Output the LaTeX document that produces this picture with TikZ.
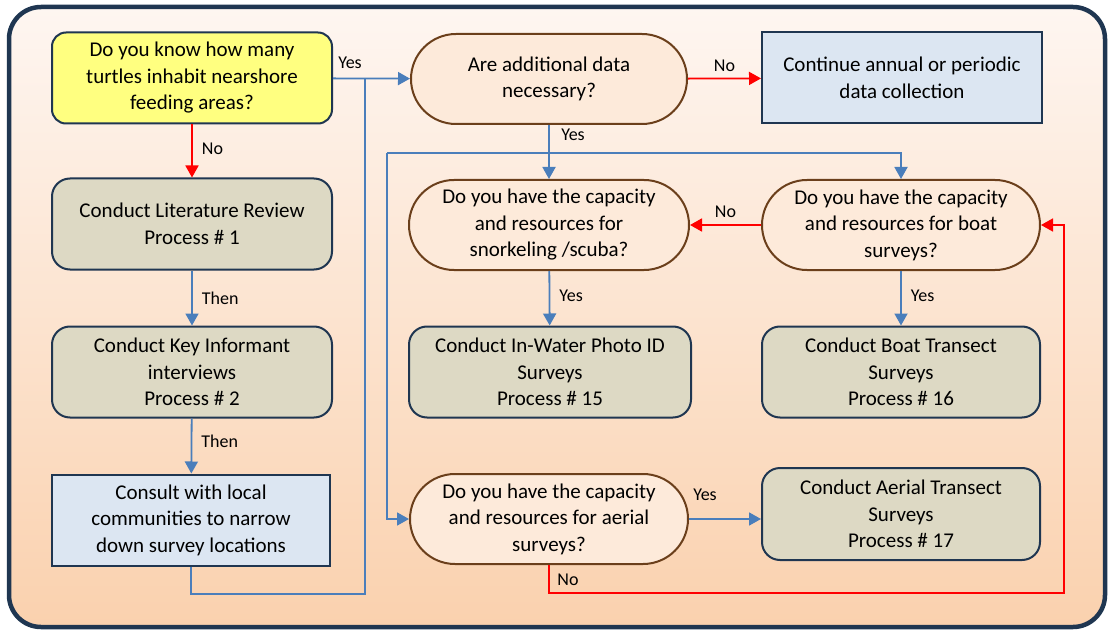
\documentclass[tikz,border=0pt]{standalone}
\usepackage{fontspec}
\setmainfont{Carlito}
\usetikzlibrary{arrows.meta}
\definecolor{navy}{HTML}{1F3651}
\definecolor{brownline}{HTML}{6B3F1B}
\definecolor{yellowfill}{HTML}{FFFF80}
\definecolor{peachfill}{HTML}{FDEADA}
\definecolor{tanfill}{HTML}{DDD9C4}
\definecolor{bluefill}{HTML}{DCE6F2}
\definecolor{flowblue}{HTML}{4A7EBB}
\definecolor{bgtop}{HTML}{FEF6F1}
\definecolor{bgbottom}{HTML}{FAD1AE}
\tikzset{
  box/.style={draw=navy, line width=2pt, align=center, inner sep=0pt,
    minimum width=280pt, minimum height=91pt,
    font=\fontsize{21}{26.5}\selectfont},
  question/.style={box, fill=yellowfill, rounded corners=14pt},
  process/.style={box, fill=tanfill, rounded corners=18pt},
  plainstep/.style={box, fill=bluefill},
  decision/.style={box, draw=brownline, fill=peachfill, rounded corners=45pt,
    minimum height=90pt},
  link/.style={line width=1.8pt, draw=flowblue},
  nolink/.style={line width=1.8pt, draw=red},
  tipblue/.style={-{Triangle[length=12pt,width=13pt]}},
  lbl/.style={font=\fontsize{18}{20}\selectfont, inner sep=0pt}
}
\begin{document}
\begin{tikzpicture}[x=1pt,y=-1pt]
\useasboundingbox (0,0) rectangle (1108,631);
% framed, shaded backdrop
\shade[top color=bgtop, bottom color=bgbottom, rounded corners=32pt]
  (9,7) rectangle (1105,627);
\draw[navy, line width=4.5pt, rounded corners=32pt] (9,7) rectangle (1105,627);

% left column
\node[question]  (know)  at (192,78)  {Do you know how many\\turtles inhabit nearshore\\feeding areas?};
\node[process]   (lit)   at (192,224) {Conduct Literature Review\\Process \# 1};
\node[process]   (kii)   at (192,372) {Conduct Key Informant\\interviews\\Process \# 2};
\node[plainstep, minimum width=278pt] (consult) at (191,520) {Consult with local\\communities to narrow\\down survey locations};

% middle column
\node[decision, minimum width=276pt] (more)  at (549,79)  {Are additional data\\necessary?};
\node[decision]  (snork) at (549,225) {Do you have the capacity\\and resources for\\snorkeling /scuba?};
\node[process, minimum width=282pt] (photo) at (550,372) {Conduct In-Water Photo ID\\Surveys\\Process \# 15};
\node[decision, minimum width=278pt] (aerialq) at (549,519) {Do you have the capacity\\and resources for aerial\\surveys?};

% right column
\node[plainstep] (cont)  at (902,78)  {Continue annual or periodic\\data collection};
\node[decision, minimum width=278pt] (boatq) at (901,225) {Do you have the capacity\\and resources for boat\\surveys?};
\node[process, minimum width=278pt] (boat)  at (901,372) {Conduct Boat Transect\\Surveys\\Process \# 16};
\node[process, minimum width=278pt, minimum height=92pt] (aerial) at (901,514) {Conduct Aerial Transect\\Surveys\\Process \# 17};

% junction points of the routed connectors
\coordinate (mergeTop) at (365,78);
\coordinate (mergeBot) at (365,594);
\coordinate (split)    at (387,153);
\coordinate (loopA)    at (1064,593);

% left column flow
\draw[nolink, tipblue] (know) -- node[lbl, right=9pt, pos=0.45] {No} (lit);
\draw[link, tipblue] (lit) -- node[lbl, right=9pt, pos=0.5] {Then} (kii);
\draw[link, tipblue] (kii) -- node[lbl, right=9pt, pos=0.42] {Then} (consult);
\draw[link, tipblue] (know) -- (more);
\node[lbl] (yes1) at (350,63) {Yes};
\draw[link] (consult.south) |- (mergeBot) -- (mergeTop);

% first decision
\draw[nolink, tipblue] (more) -- node[lbl, above=6pt] {No} (cont);
\draw[link, tipblue] (more) -- (snork);
\node[lbl] (yes2) at (573,135) {Yes};
\draw[link, tipblue] (split) -| (boatq.north);
\draw[link, tipblue] (split) |- (aerialq.west);

% capacity decisions
\draw[nolink, tipblue] (boatq) -- node[lbl, above=6pt] {No} (snork);
\draw[link, tipblue] (snork) -- node[lbl, right=9pt, pos=0.45] {Yes} (photo);
\draw[link, tipblue] (boatq) -- node[lbl, right=9pt, pos=0.45] {Yes} (boat);
\draw[link, tipblue] (aerialq.east) -- (aerial.west |- aerialq.east);
\node[lbl] (yes3) at (705,495) {Yes};
\draw[nolink, tipblue] (aerialq.south) |- (loopA) |- (boatq.east);
\node[lbl] (no4) at (568,580) {No};
\end{tikzpicture}
\end{document}
